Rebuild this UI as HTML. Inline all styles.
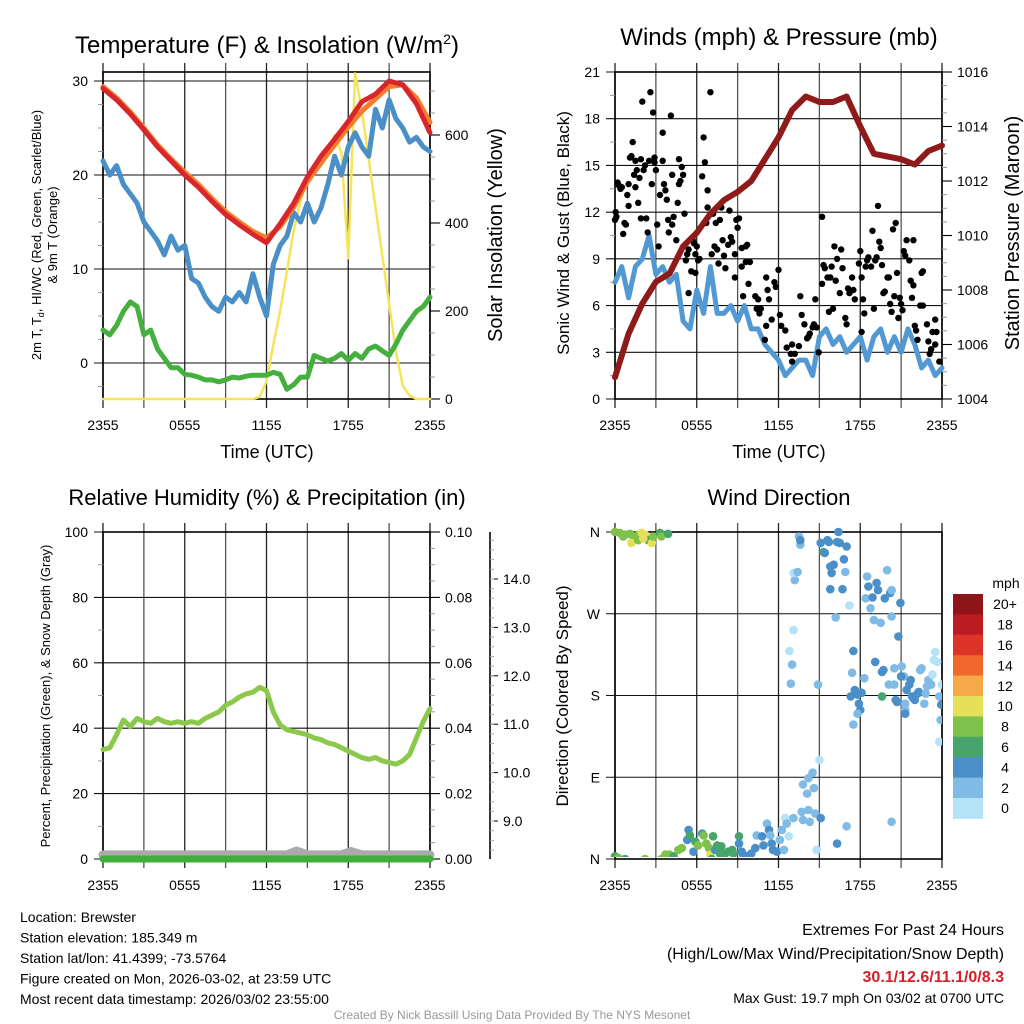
<!DOCTYPE html>
<html><head><meta charset="utf-8"><style>
html,body{margin:0;padding:0;background:#fff;}
svg{display:block;font-family:"Liberation Sans",Arial,sans-serif;}
</style></head><body>
<svg id="s" width="1024" height="1024" viewBox="0 0 1024 1024" xmlns="http://www.w3.org/2000/svg">
<g id="bg"></g>
</svg>
<script>
// ---------- DATA ----------
var timeLabels = ["2355","0555","1155","1755","2355"];
var tempHours = [0,1,2,3,4,5,6,7,8,9,10,11,12,13,14,15,16,17,18,19,20,21,22,23,24];
var temp2m = [29.2,28,26.5,24.8,23,21.5,20,18.7,17.2,15.8,14.7,13.7,12.8,14.8,17,19.8,22,23.8,25.7,27.8,28.6,30,29.6,27.6,24.5];
var temp9m = [29.4,28.2,26.7,25,23.2,21.7,20.3,19,17.5,16.1,15,14,13.3,14.5,16.6,19.3,21.3,23.2,25.1,26.8,28.1,29.4,29.6,28.2,25.6];
var halfHours = [];
for (var hh=0; hh<=48; hh++) halfHours.push(hh/2);
var windChill = [21.5,20,21,19,18,17,15,14,13,11.5,13.5,12,12.5,9,8.5,7,6,5.5,7,6.5,7.5,6.5,9.5,7,5,10.5,12.5,13.5,16,15,17,15,16.5,19,22,20,23,24.5,23,22,27,25,28,26,25,23.5,24,23,22.5];
var dewPoint = [3.5,3,4,5.5,6.5,6,3,3.5,1.5,0.5,-0.5,-0.5,-1.2,-1.3,-1.5,-1.8,-1.8,-2,-1.8,-1.5,-1.6,-1.4,-1.3,-1.3,-1.3,-1,-1.2,-2.8,-2.3,-1.5,-1.5,0.8,0.5,0.2,0.5,1,0.3,1,0.5,1.5,1.8,1.3,0.8,2,3.5,4.5,5.5,6,7];
var solar = [0,0,0,0,0,0,0,0,0,0,0,0,0,0,0,0,0,0,0,0,0,0,0,5,40,123,200,290,384,450,500,520,530,555,600,560,320,740,655,545,436,326,217,108,30,8,0,0,0];
var windSpeed = [7.5,8.5,6.5,8.5,9,10.5,8,8.5,7.5,8,5,4.5,7,5.5,8.5,5.5,5.5,6,5,6,4.5,4.5,3.5,3,2.5,1.5,2,2.5,2.5,1.5,4,4.5,3.5,4,3,3.5,4,2.5,4,4.5,3,4,3,4.5,3.5,2,2.5,1.5,2];
var pressure = [1004.8,1006.4,1007.5,1008.3,1008.6,1009.6,1010.1,1010.8,1011.3,1011.6,1012.0,1012.8,1013.6,1014.6,1015.1,1014.9,1014.9,1015.1,1014.0,1013.0,1012.9,1012.8,1012.6,1013.1,1013.3];
var gustHours = [0,0.05,0.1,0.2,0.3,0.4,0.5,0.6,0.7,0.8,0.9,1.0,1.0,1.1,1.2,1.3,1.4,1.5,1.5,1.6,1.7,1.8,1.9,1.9,2.0,2.1,2.2,2.3,2.4,2.5,2.6,2.7,2.8,2.9,2.9,3.0,3.1,3.2,3.3,3.5,3.5,3.6,3.7,3.8,3.9,3.95,4.1,4.2,4.2,4.3,4.5,4.6,4.7,4.7,4.8,4.9,5.0,5.1,5.2,5.3,5.4,5.4,5.6,5.7,5.8,5.9,5.9,6.0,6.1,6.2,6.4,6.5,6.6,6.7,6.8,6.8,7.0,7.1,7.2,7.3,7.4,7.5,7.6,7.7,7.8,7.9,8.0,8.1,8.3,8.4,8.5,8.6,8.8,8.9,9.0,
9.1,9.3,9.6,9.7,9.3,9.6,9.9,8.8,9.4,9.8,10.3,10.5,10.4,10.6,10.7,11.1,11.2,11.3,11.7,11.8,12.0,11.1,11.5,11.0,12.1,12.2,12.5,12.6,12.9,13.0,13.2,13.0,13.5,13.6,13.7,13.9,14.1,14.2,14.3,14.5,14.6,14.7,14.8,14.95,15.2,15.2,15.3,15.4,15.6,15.7,15.8,15.9,16.0,16.1,16.2,16.3,16.5,16.6,16.7,16.9,17.0,17.1,17.2,17.4,17.5,17.6,17.9,18.0,18.1,18.1,18.2,18.3,18.4,18.5,18.6,18.8,18.9,19.0,19.1,19.2,19.3,19.4,19.5,19.6,19.7,19.8,20.0,20.1,20.2,20.3,20.4,20.5,20.6,20.7,20.8,20.9,21.0,21.1,21.2,21.3,21.4,21.6,21.7,21.8,21.9,21.9,22.0,22.1,22.2,22.4,22.6,22.5,22.6,22.9,23.0,23.1,23.2,23.3,23.5,23.5,23.6,23.8];
var gustMph = [11.5,12.0,11.7,13.9,13.7,13.5,13.6,10.6,11.3,11.2,13.1,13.8,12.4,15.5,15.6,16.5,14.4,13.6,15.3,14.7,12.6,14.2,15.4,11.6,19.1,14.7,15.0,11.6,10.7,15.3,19.7,13.8,18.4,15.5,15.2,14.7,11.2,9.8,13.1,17.1,15.3,13.8,13.4,12.8,11.5,10.7,18.2,14.4,11.2,11.7,10.2,12.6,15.4,13.8,14.0,14.9,14.4,11.9,8.9,9.3,6.8,9.6,8.2,10.2,10.0,8.1,9.3,9.8,8.9,9.0,14.3,16.8,15.2,11.3,13.4,12.3,19.7,9.3,11.9,9.8,11.3,9.6,8.7,11.5,12.3,10.2,9.2,8.4,9.9,12.1,10.4,10.1,9.3,11.5,11.0,
11.6,9.7,9.8,9.9,8.5,8.8,8.8,7.8,6.6,7.4,6.6,6.4,5.8,5.5,5.8,7.8,7.0,6.4,7.5,7.2,8.3,4.7,5.1,3.8,5.4,4.7,4.4,3.3,2.9,2.4,2.9,3.5,3.4,6.6,5.4,4.8,3.9,4.0,4.2,4.6,4.8,6.4,4.6,3.0,11.7,7.4,8.6,8.4,7.8,5.6,7.8,8.5,5.8,9.8,7.6,9.0,6.8,9.6,8.4,5.2,4.8,7.1,6.8,7.8,7.0,6.4,8.7,9.5,7.8,4.3,6.4,5.5,8.5,8.9,9.1,8.5,10.8,5.8,8.9,9.1,12.4,10.1,9.7,8.6,6.8,6.9,7.8,7.8,6.1,5.6,10.9,6.6,11.3,8.1,5.2,6.5,6.1,5.7,9.5,9.2,10.2,8.9,7.6,6.5,10.2,7.3,4.7,4.4,3.8,6.0,6.0,8.1,8.2,4.8,3.7,2.9,3.2,4.3,3.5,5.1,4.3,2.4];
var rh = [33.5,34,38,42.5,40.5,43,42,41.5,43,42,41.5,42,41.5,42,41.5,43,44,45,47,48,49.5,50.5,51,52.5,51.5,45,41,39.5,39,38.5,38,37,36.5,35.5,35,34,33,32,31,30.5,31,30,29.5,29,30,32,37,42,46];
var precipHours = [0,24];
var precip = [0,0];
var snowHours = [0,13.5,14.2,15,17.5,18.2,19,24];
var snowDepth = [8.3,8.3,8.38,8.3,8.3,8.37,8.3,8.3];
var dirHours = [0,0.37,0.74,1.1,1.35,1.2,1.7,1.96,2.2,2.3,2.45,2.7,2.8,3.3,3.4,3.9,1.7,2.08,0.6,
0,0.25,0.74,2.2,3.4,3.7,4.0,4.3,4.65,4.9,5.3,5.4,5.5,5.76,5.9,6.1,6.4,6.5,6.7,6.9,7.0,7.1,7.2,7.35,7.5,7.7,7.8,8.1,8.3,8.6,8.7,9.1,9.1,9.3,9.4,9.7,9.9,10.0,10.3,10.4,10.8,10.9,11.15,11.3,11.4,11.5,11.6,11.9,12.1,12.25,12.5,12.6,12.75,12.4,
13.1,13.7,13.8,14.2,14.3,14.7,15.1,13.8,14.1,14.2,14.6,14.5,15.0,14.8,16.3,17.0,20.3,
12.9,13.0,12.8,13.1,13.2,13.1,13.4,13.5,13.6,13.6,14.9,
15.1,15.3,15.4,15.6,15.7,15.8,15.9,16.05,15.8,16.3,16.4,16.5,16.7,16.8,16.9,17.0,16.2,17.2,
17.5,17.4,17.3,17.6,17.8,17.9,18.0,17.8,18.1,18.3,17.5,18.4,18.5,18.6,18.75,18.9,19.0,19.1,19.2,19.3,19.5,19.6,19.7,19.6,19.8,19.97,20.1,20.2,20.3,20.5,20.6,20.7,20.8,20.95,20.3,21.05,21.2,21.3,21.3,21.4,21.6,21.7,21.8,21.9,22.0,22.2,22.3,22.4,22.5,22.7,22.8,22.9,23.0,23.2,23.3,23.4,23.5,23.65,23.8,23.9,23.8,23.95,24.0,20.5,21.0,21.3];
var dirDeg = [360,359,357,358,355,348,357,359,357,353,351,348,355,359,355,358,351,353,355,
3,1,0,0,0,5,5,3,10,12,21,32,26,8,19,15,28,26,17,12,5,0,25,10,15,6,14,6,8,10,6,25,17,8,5,3,0,6,12,26,25,15,39,32,26,17,10,8,21,32,45,39,25,10,
45,52,43,54,41,50,45,82,72,89,78,95,109,10,17,36,41,
193,214,229,252,307,315,316,355,346,351,192,
348,338,337,351,349,322,315,324,297,349,360,348,297,330,316,344,266,279,
229,205,179,186,181,171,164,160,183,199,148,287,311,300,276,288,263,217,304,296,260,206,208,179,287,318,192,293,296,192,175,173,245,282,267,212,201,171,164,186,192,197,179,177,175,182,184,208,210,171,182,190,197,192,203,219,228,217,179,153,129,170,192,210,201,160];
var dirSpeed = [8,8,8,8,8,10,8,10,10,10,6,10,8,6,8,6,8,10,8,
6,8,6,8,8,8,8,6,8,8,4,4,6,4,6,8,4,8,8,8,10,6,6,4,6,6,6,6,6,6,6,6,4,4,4,4,4,4,4,2,4,4,2,4,2,4,4,4,2,2,0,2,0,2,
2,2,2,2,2,2,4,2,2,2,2,2,0,0,4,2,2,
2,2,0,0,2,0,2,2,2,4,2,
4,6,4,4,4,4,4,4,4,4,4,4,4,4,2,4,2,0,
4,2,4,4,4,4,4,2,4,2,2,2,2,4,2,4,2,4,4,4,2,4,4,6,4,2,2,4,2,2,4,4,4,4,2,2,2,2,2,4,4,4,4,4,4,4,4,2,2,2,2,2,2,2,0,0,0,0,2,2,0,4,0,2,4,4];
var speedBins = [0,2,4,6,8,10,12,14,16,18,20];
var speedBinLabels = ["0","2","4","6","8","10","12","14","16","18","20+"];
var speedColors = ["#b4e3f8","#7fbbe5","#4a8fc8","#47a56b","#7fc24b","#e6df58","#f6a947","#f1682c","#dd3429","#bb1c23","#8e1418"];

// ---------- HELPERS ----------
var NS="http://www.w3.org/2000/svg", svg=document.getElementById('s');
function el(tag, attrs, parent){var e=document.createElementNS(NS,tag);for(var k in attrs)e.setAttribute(k,attrs[k]);(parent||svg).appendChild(e);return e;}
function txt(x,y,s,size,anchor,extra,parent){var t=el('text',{x:x,y:y,'font-size':size,'text-anchor':anchor||'middle',fill:'#000'},parent);if(extra)for(var k in extra)t.setAttribute(k,extra[k]);t.textContent=s;return t;}
function linScale(d0,d1,r0,r1){return function(v){return r0+(v-d0)/(d1-d0)*(r1-r0);};}
function pathFrom(xs,ys,fx,fy){var d='';for(var i=0;i<xs.length;i++)d+=(i?'L':'M')+fx(xs[i]).toFixed(1)+','+fy(ys[i]).toFixed(1);return d;}

function panel(name,x0,x1,y0,y1,hgridVals,fy,tickLabels,leftLabels,withXLabels){
  var g=el('g',{});
  
  
  var fx=linScale(0,24,x0,x1);
  for(var h=0;h<=24;h+=3){
    var l=el('line',{x1:fx(h),x2:fx(h),y1:y0-9,y2:y1+9,stroke:(h%6==0?'#222':'#555'),'stroke-width':1.3},g);
    
    
  }
  hgridVals.forEach(function(v){
    var l=el('line',{x1:x0-9,x2:x1,y1:fy(v),y2:fy(v),stroke:'#111','stroke-width':1.1},g);
    
    
  });
  var r=el('rect',{x:x0,y:y0,width:x1-x0,height:y1-y0,fill:'none',stroke:'#000','stroke-width':1.6},g);
  
  
  if(withXLabels){
    for(var i=0;i<tickLabels.length;i++){
      var t=txt(fx(i*6),y1+31,tickLabels[i],14,'middle',null,g);
      
      
    }
  }
  leftLabels.forEach(function(p){
    var t=txt(x0-15,fy(p[0])+5,p[1],14,'end',null,g);
    
    
  });
  return {fx:fx,g:g};
}
function drawLine(xs,ys,fx,fy,color,w,name,parent){
  var p=el('path',{d:pathFrom(xs,ys,fx,fy),fill:'none',stroke:color,'stroke-width':w,'stroke-linejoin':'round','stroke-linecap':'round'},parent);
  
  
  return p;
}
function rightTicks(x,vals,fy,labels,minorVals,g){
  vals.forEach(function(v,i){
    var l=el('line',{x1:x,x2:x+10,y1:fy(v),y2:fy(v),stroke:'#000','stroke-width':1.1},g);
    
    
    var t=txt(x+15,fy(v)+5,labels[i],14,'start',null,g);
    
    
  });
  minorVals.forEach(function(v){
    var l=el('line',{x1:x,x2:x+5,y1:fy(v),y2:fy(v),stroke:'#999','stroke-width':1},g);
    
    
  });
}

// ---------- PANEL 1 ----------
(function(){
  var x0=103,x1=430,y0=72,y1=399;
  var fy=linScale(0,30,363,81);
  var P=panel('temperature-panel',x0,x1,y0,y1,[0,10,20,30],fy,timeLabels,[[0,'0'],[10,'10'],[20,'20'],[30,'30']],true);
  [-2.5,2.5,5,7.5,12.5,15,17.5,22.5,25,27.5].forEach(function(v){var l=el('line',{x1:x0-5,x2:x0,y1:fy(v),y2:fy(v),stroke:'#999'},P.g);});
  var fs=linScale(0,200,399,311);
  var sv=[0,200,400,600],mv=[];for(var v=50;v<740;v+=50)if(v%200)mv.push(v);
  rightTicks(x1,sv,fs,['0','200','400','600'],mv,P.g);
  var gp=el('g',{'clip-path':'url(#c1)'});
  drawLine(halfHours,solar,P.fx,fs,'#f7e35a',2.5,'solar-insolation-line',gp);
  drawLine(halfHours,dewPoint,P.fx,fy,'#45b03d',5,'dewpoint-line',gp);
  drawLine(halfHours,windChill,P.fx,fy,'#4a8fc8',5,'wind-chill-line',gp);
  drawLine(tempHours,temp9m,P.fx,fy,'#f47d2b',5,'temperature-9m-line',gp);
  drawLine(tempHours,temp2m,P.fx,fy,'#d8262b',5,'temperature-2m-line',gp);
  var t=txt(267,53,'Temperature (F) & Insolation (W/m',24,'middle');
  
  var ts=el('tspan',{dy:-9,'font-size':14},t);ts.textContent='2';
  var ts2=el('tspan',{dy:9},t);ts2.textContent=')';
  t=txt(267,458,'Time (UTC)',18);
  var yl=el('text',{x:0,y:0,'font-size':13,'text-anchor':'middle',transform:'translate(41,235) rotate(-90)'});
  
  var a=el('tspan',{},yl);a.textContent='2m T, T';var b=el('tspan',{dy:3,'font-size':9},yl);b.textContent='d';var c=el('tspan',{dy:-3},yl);c.textContent=', HI/WC (Red, Green, Scarlet/Blue)';
  yl=txt(0,0,'& 9m T (Orange)',13,'middle',{transform:'translate(57,235) rotate(-90)'});
  
  yl=txt(0,0,'Solar Insolation (Yellow)',20,'middle',{transform:'translate(502,235) rotate(-90)'});
  
})();

// ---------- PANEL 2 ----------
(function(){
  var x0=615,x1=942,y0=72,y1=399;
  var fy=linScale(0,21,399,72);
  var P=panel('wind-pressure-panel',x0,x1,y0,y1,[0,3,6,9,12,15,18,21],fy,timeLabels,[[0,'0'],[3,'3'],[6,'6'],[9,'9'],[12,'12'],[15,'15'],[18,'18'],[21,'21']],true);
  [1.5,4.5,7.5,10.5,13.5,16.5,19.5].forEach(function(v){var l=el('line',{x1:x0-5,x2:x0,y1:fy(v),y2:fy(v),stroke:'#999'},P.g);});
  var fp=linScale(1004,1016,399,72);
  rightTicks(x1,[1004,1006,1008,1010,1012,1014,1016],fp,['1004','1006','1008','1010','1012','1014','1016'],[1004.5,1005,1005.5,1006.5,1007,1007.5,1008.5,1009,1009.5,1010.5,1011,1011.5,1012.5,1013,1013.5,1014.5,1015,1015.5],P.g);
  var gp=el('g',{'clip-path':'url(#c2)'});
  drawLine(halfHours,windSpeed,P.fx,fy,'#5299d3',5,'wind-speed-line',gp);
  for(var i=0;i<gustHours.length;i++){
    var c=el('circle',{cx:P.fx(gustHours[i]).toFixed(1),cy:fy(gustMph[i]).toFixed(1),r:3.2,fill:'#000'},gp);
    
    
  }
  drawLine(tempHours,pressure,P.fx,fp,'#8e1a1a',6,'pressure-line',gp);
  var t=txt(779,45,'Winds (mph) & Pressure (mb)',24);
  t=txt(779,458,'Time (UTC)',18);
  t=txt(0,0,'Sonic Wind & Gust (Blue, Black)',17,'middle',{transform:'translate(569,233) rotate(-90)'});
  t=txt(0,0,'Station Pressure (Maroon)',20,'middle',{transform:'translate(1019,233) rotate(-90)'});
})();

// ---------- PANEL 3 ----------
(function(){
  var x0=103,x1=430,y0=532,y1=859;
  var fy=linScale(0,100,859,532);
  var P=panel('humidity-panel',x0,x1,y0,y1,[0,20,40,60,80,100],fy,timeLabels,[[0,'0'],[20,'20'],[40,'40'],[60,'60'],[80,'80'],[100,'100']],true);
  [10,30,50,70,90].forEach(function(v){var l=el('line',{x1:x0-5,x2:x0,y1:fy(v),y2:fy(v),stroke:'#999'},P.g);});
  var fpr=linScale(0,0.1,859,532);
  var mv=[];for(var k=1;k<20;k++)if(k%4)mv.push(k*0.005);
  rightTicks(x1,[0,0.02,0.04,0.06,0.08,0.1],fpr,['0.00','0.02','0.04','0.06','0.08','0.10'],mv,P.g);
  var fsd=linScale(9,14,821,579);
  var ax=el('line',{x1:490,x2:490,y1:532,y2:859,stroke:'#000','stroke-width':1.6});
  [9,10,11,12,13,14].forEach(function(v){
    var l=el('line',{x1:490,x2:498,y1:fsd(v),y2:fsd(v),stroke:'#000'});
    var t=txt(503,fsd(v)+5,v.toFixed(1),14,'start');
  });
  for(var v=8.4;v<14.8;v+=0.2){var l=el('line',{x1:490,x2:494,y1:fsd(v),y2:fsd(v),stroke:'#aaa'});}
  drawLine(snowHours,snowDepth,P.fx,fsd,'#aaaaaa',9,'snow-depth-line');
  drawLine(precipHours,precip,P.fx,fpr,'#3fae3c',7,'precip-line');
  drawLine(halfHours,rh,P.fx,fy,'#8cc84b',5,'rh-line');
  var t=txt(267,505,'Relative Humidity (%) & Precipitation (in)',22);
  t=txt(0,0,'Percent, Precipitation (Green), & Snow Depth (Gray)',13,'middle',{transform:'translate(50,696) rotate(-90)'});
})();

// ---------- PANEL 4 ----------
(function(){
  var x0=615,x1=942,y0=532,y1=859;
  var fy=linScale(0,360,859,532);
  var P=panel('wind-direction-panel',x0,x1,y0,y1,[0,90,180,270,360],fy,timeLabels,[[0,'N'],[90,'E'],[180,'S'],[270,'W'],[360,'N']],true);
  function colorFor(s){var idx=0;for(var j=0;j<speedBins.length;j++)if(s>=speedBins[j])idx=j;return speedColors[idx];}
  var gp=el('g',{'clip-path':'url(#c4)'});
  for(var i=0;i<dirHours.length;i++){
    var c=el('circle',{cx:P.fx(dirHours[i]).toFixed(1),cy:fy(dirDeg[i]).toFixed(1),r:4.3,fill:colorFor(dirSpeed[i])},gp);
    
    
  }
  var t=txt(779,505,'Wind Direction',22);
  t=txt(0,0,'Direction (Colored By Speed)',17,'middle',{transform:'translate(568,696) rotate(-90)'});
  var cb=el('g',{});
  var top=594,bh=20.4;
  for(var k=0;k<speedColors.length;k++){
    var idx=speedColors.length-1-k;
    var r=el('rect',{x:953,y:top+k*bh,width:30,height:bh+0.5,fill:speedColors[idx]},cb);
    
    var tl=txt(1005,top+k*bh+bh/2+5,speedBinLabels[idx],14,'middle',null,cb);
    
  }
  t=txt(1006,588,'mph',14,'middle',null,cb);
})();

var defs=el('defs',{});
[['c1',103,72],['c2',615,72],['c4',611,528]].forEach(function(c){
  var cp=el('clipPath',{id:c[0]},defs);el('rect',{x:c[1]-4,y:c[2]-2,width:335,height:331},cp);
});

// ---------- FOOTER ----------
var info=["Location: Brewster","Station elevation: 185.349 m","Station lat/lon: 41.4399; -73.5764","Figure created on Mon, 2026-03-02, at 23:59 UTC","Most recent data timestamp: 2026/03/02 23:55:00"];
info.forEach(function(s,i){var t=txt(20,922+i*20.5,s,14,'start');});
var t=txt(1004,935,'Extremes For Past 24 Hours',16,'end');
t=txt(1004,959,'(High/Low/Max Wind/Precipitation/Snow Depth)',16,'end');
t=txt(1004,982,'30.1/12.6/11.1/0/8.3',16,'end',{fill:'#d3202a','font-weight':'bold'});
t=txt(1004,1003,'Max Gust: 19.7 mph On 03/02 at 0700 UTC',14,'end');
t=txt(512,1019,'Created By Nick Bassill Using Data Provided By The NYS Mesonet',12,'middle',{fill:'#999'});
</script>
</body></html>
